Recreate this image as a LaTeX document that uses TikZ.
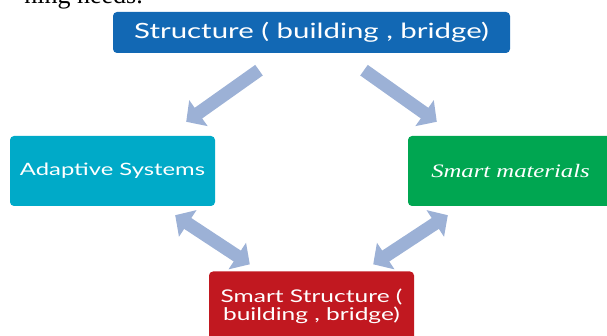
\documentclass[tikz,border=0pt]{standalone}
\usepackage{fontspec}
\newfontfamily\boxfont[FakeStretch=1.4]{Lato}
\newfontfamily\boxitalic[FakeStretch=1.3]{Liberation Serif}
\newfontfamily\pagefont{Liberation Serif}
\usetikzlibrary{arrows.meta}
\definecolor{structblue}{RGB}{18,104,180}
\definecolor{adaptteal}{RGB}{0,170,200}
\definecolor{smartgreen}{RGB}{0,166,81}
\definecolor{smartred}{RGB}{193,24,32}
\definecolor{flowblue}{RGB}{156,177,214}
\tikzset{
  box/.style = {
    fill=#1, text=white, rounded corners=4pt, inner sep=0pt,
    minimum width=205pt, minimum height=70pt, align=center
  },
  flow/.style = {flowblue, line width=13pt, -{Triangle[length=15pt,width=31pt]}},
  link/.style = {flow, {Triangle[length=15pt,width=31pt]}-{Triangle[length=15pt,width=31pt]}}
}

\begin{document}
\begin{tikzpicture}[x=1pt,y=-1pt]
  \clip (0,0) rectangle (607,336);
  % end of the text above
  \node[anchor=base east,inner sep=0pt,font=\pagefont\fontsize{26}{30}\selectfont]
    (pagetext) at (143,4) {ning needs.};
  % boxes
  \node[box=structblue,minimum width=397pt,minimum height=41pt,
        font=\boxfont\fontsize{21}{24}\selectfont]
    (structure) at (311.5,32.5) {Structure ( building , bridge)};
  \node[box=adaptteal,font=\boxfont\fontsize{17}{20}\selectfont]
    (adaptive) at (112.5,171) {Adaptive Systems};
  \node[box=smartgreen,font=\boxitalic\itshape\fontsize{19}{22}\selectfont]
    (materials) at (510.5,171) {Smart materials};
  \node[box=smartred,font=\boxfont\fontsize{17.5}{18}\selectfont]
    (smart) at (311.5,306.5) {Smart Structure (\\building , bridge)};
  % arrows
  \draw[flow] ([shift={(-52.5,17)}]structure.south) -- ([shift={(-29,-14)}]adaptive.north east);
  \draw[flow] ([shift={(52.5,17)}]structure.south) -- ([shift={(29,-14)}]materials.north west);
  \draw[link] ([shift={(-40,9)}]adaptive.south east) -- ([shift={(41,-7)}]smart.north west);
  \draw[link] ([shift={(40,9)}]materials.south west) -- ([shift={(-41,-7)}]smart.north east);
\end{tikzpicture}
\end{document}
